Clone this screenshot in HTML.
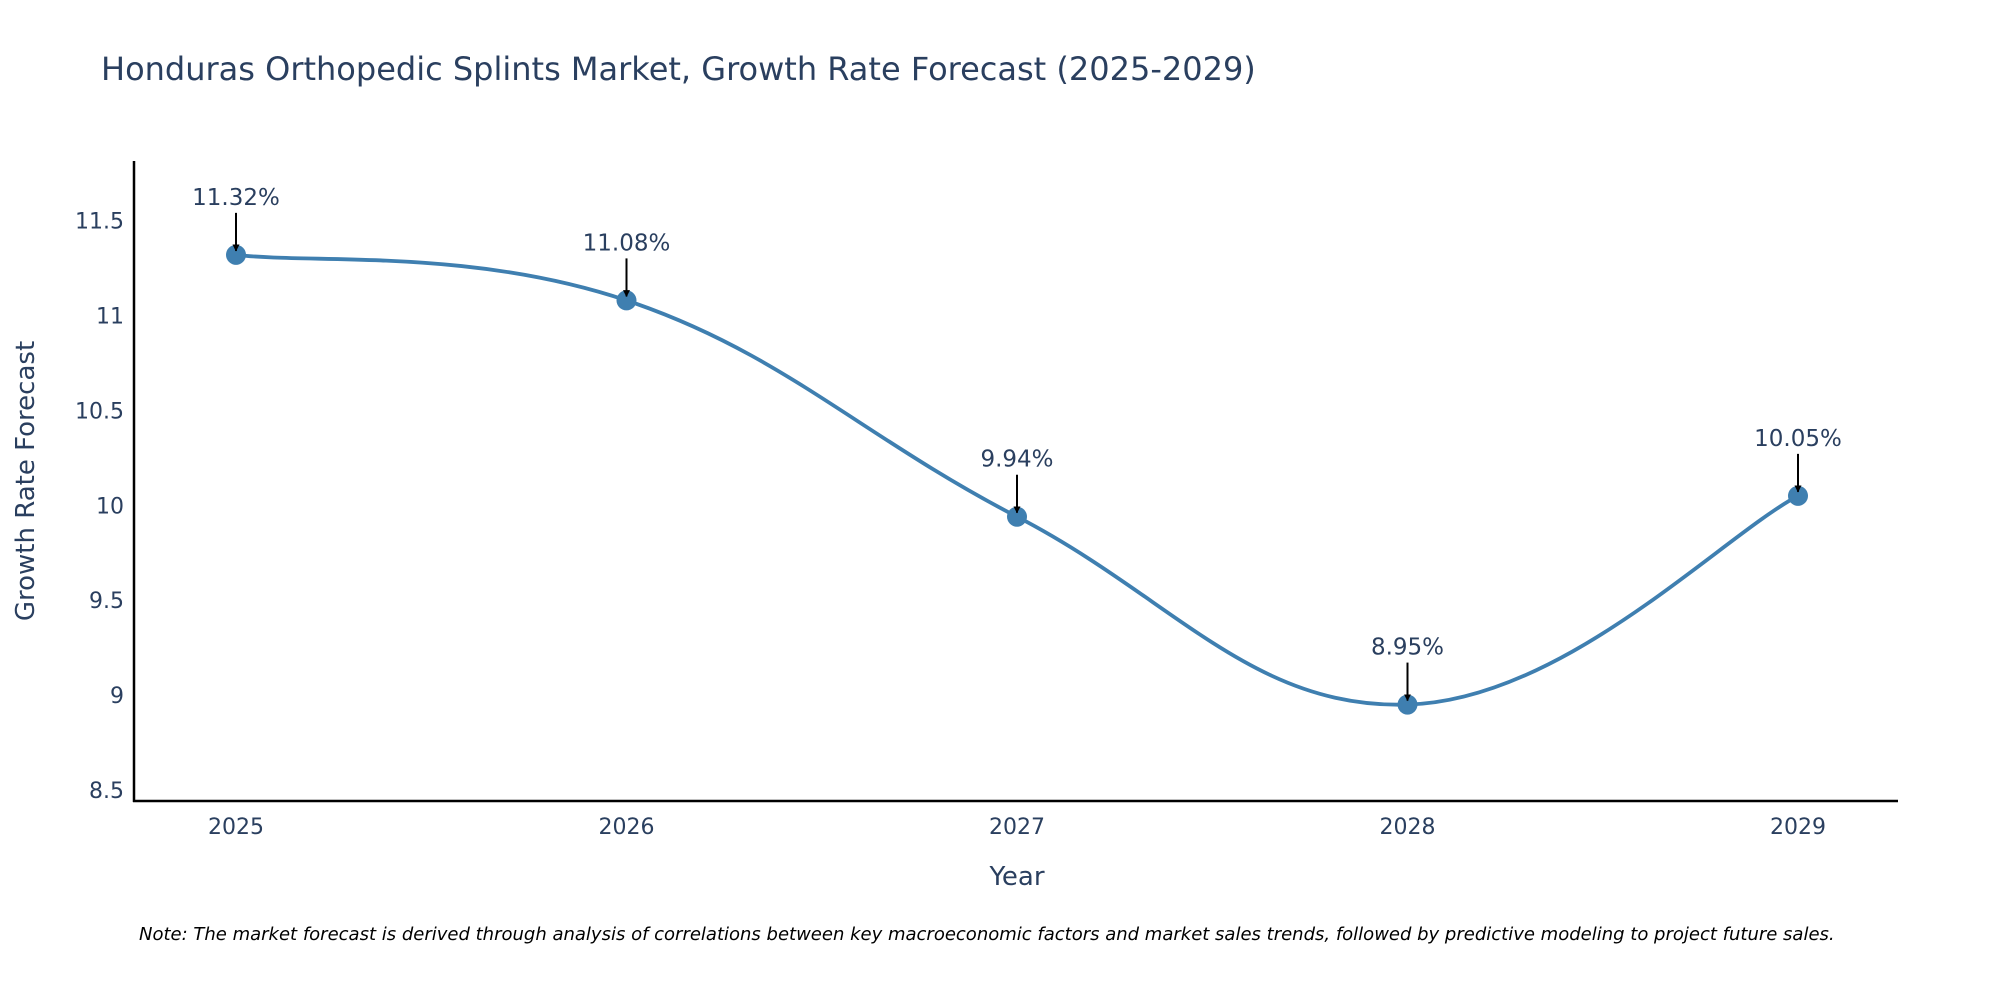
<!DOCTYPE html>
<html><head><meta charset="utf-8"><style>
body{margin:0;background:#fff;}
svg{display:block;font-family:"DejaVu Sans","Liberation Sans",sans-serif;}
</style></head><body>
<svg id="chart" width="2000" height="1000" viewBox="0 0 2000 1000">
<text x="101" y="80" font-size="32" fill="#2a3f5f">Honduras Orthopedic Splints Market, Growth Rate Forecast (2025-2029)</text>
<g id="yticks"></g>
<g id="xticks"></g>
<line x1="134" y1="161" x2="134" y2="802" stroke="#000" stroke-width="2.5"/>
<line x1="133" y1="801" x2="1898" y2="801" stroke="#000" stroke-width="2.5"/>
<text x="34" y="481" font-size="26" fill="#2a3f5f" text-anchor="middle" transform="rotate(-90 34 481)">Growth Rate Forecast</text>
<text x="1017" y="885" font-size="26" fill="#2a3f5f" text-anchor="middle">Year</text>
<g id="series"></g>
<g id="annots"></g>
<text x="139" y="940" font-size="18" font-style="italic" fill="#000">Note: The market forecast is derived through analysis of correlations between key macroeconomic factors and market sales trends, followed by predictive modeling to project future sales.</text>
<defs><marker id="ah" viewBox="0 0 10 10" refX="9" refY="5" markerWidth="7" markerHeight="7" markerUnits="userSpaceOnUse" orient="auto"><path d="M0,0 L10,5 L0,10 z" fill="#000"/></marker></defs>
</svg>
<script>
const years=[2025,2026,2027,2028,2029];
const values=[11.32,11.08,9.94,8.95,10.05];
const yTickValues=[8.5,9,9.5,10,10.5,11,11.5];
const yTickLabels=["8.5","9","9.5","10","10.5","11","11.5"];
const NS="http://www.w3.org/2000/svg";
function xs(v){return 236+(v-2025)*(1798-236)/4;}
function ys(v){return 695.1-(v-9)*(695.1-220.7)/2.5;}
function mk(t,a,p){const e=document.createElementNS(NS,t);for(const k in a)e.setAttribute(k,a[k]);p.appendChild(e);return e;}
const yt=document.getElementById('yticks');
yTickValues.forEach((v,i)=>{const t=mk('text',{x:124,y:ys(v)+8,'font-size':22,fill:'#2a3f5f','text-anchor':'end'},yt);t.textContent=yTickLabels[i];

});
const xt=document.getElementById('xticks');
years.forEach(y=>{const t=mk('text',{x:xs(y),y:834,'font-size':22,fill:'#2a3f5f','text-anchor':'middle'},xt);t.textContent=String(y);

});
const pts=years.map((y,i)=>[xs(y),ys(values[i])]);
let d='M'+pts[0][0]+','+pts[0][1];
const k=1/5;
for(let i=0;i<pts.length-1;i++){const p0=pts[Math.max(0,i-1)],p1=pts[i],p2=pts[i+1],p3=pts[Math.min(pts.length-1,i+2)];
const c1=[p1[0]+(p2[0]-p0[0])*k,p1[1]+(p2[1]-p0[1])*k],c2=[p2[0]-(p3[0]-p1[0])*k,p2[1]-(p3[1]-p1[1])*k];
d+=` C${c1[0]},${c1[1]} ${c2[0]},${c2[1]} ${p2[0]},${p2[1]}`;}
const s=document.getElementById('series');
const ln=mk('path',{d:d,fill:'none',stroke:'#3f7fb0','stroke-width':3.8},s);


const an=document.getElementById('annots');
pts.forEach((p,i)=>{const c=mk('circle',{cx:p[0],cy:p[1],r:10,fill:'#3f7fb0'},s);


const a=mk('line',{x1:p[0],y1:p[1]-42,x2:p[0],y2:p[1]-4,stroke:'#000','stroke-width':2,'marker-end':'url(#ah)'},an);


const t=mk('text',{x:p[0],y:p[1]-50,'font-size':23,fill:'#2a3f5f','text-anchor':'middle'},an);t.textContent=values[i].toFixed(2)+'%';

});
</script>
</body></html>
